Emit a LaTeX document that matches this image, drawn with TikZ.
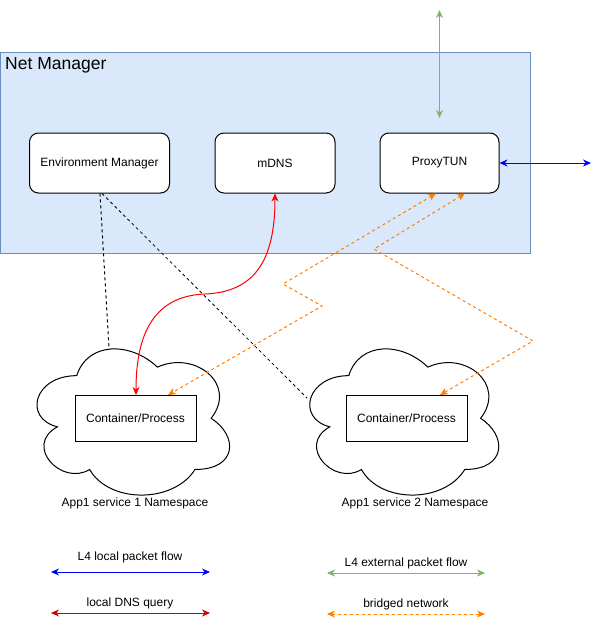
\documentclass[tikz,border=0pt]{standalone}
\usepackage{fontspec}
\setmainfont{Liberation Sans}
\usetikzlibrary{arrows.meta,calc}
\definecolor{nmfill}{HTML}{DAE8FC}
\definecolor{nmline}{HTML}{6C8EBF}
\definecolor{extgreen}{HTML}{82B366}
\definecolor{bridgeorange}{HTML}{FF8000}
\definecolor{dnsred}{HTML}{CC0000}
\newcommand\nscloud[3]{%
  \begin{scope}[shift={(#1,#2)},xscale=#3,yscale=170.6]
    \draw[cloudline] (0.25,0.25) .. controls (0.05,0.25) and (0,0.5) .. (0.16,0.55)
      .. controls (0,0.66) and (0.18,0.9) .. (0.31,0.8)
      .. controls (0.4,1) and (0.7,1) .. (0.8,0.8)
      .. controls (1,0.8) and (1,0.6) .. (0.875,0.5)
      .. controls (1,0.3) and (0.8,0.1) .. (0.625,0.2)
      .. controls (0.5,0.05) and (0.3,0.05) .. (0.25,0.25) -- cycle;
  \end{scope}}
\tikzset{
  x=1pt, y=-1pt,
  every node/.style={font=\fontsize{12}{14}\selectfont},
  rbox/.style={draw=black, fill=white, rounded corners=9pt, line width=1pt, minimum width=140pt, minimum height=60pt, inner sep=0pt},
  cbox/.style={draw=black, fill=white, line width=1pt, minimum width=121pt, minimum height=46pt, inner sep=0pt},
  cloudline/.style={draw=black, fill=white, line width=1pt},
  conn/.style={line width=1pt, {Stealth[length=8pt,width=7pt,inset=2.5pt]}-{Stealth[length=8pt,width=7pt,inset=2.5pt]}},
  dsh/.style={dash pattern=on 3pt off 3pt},
  lbl/.style={inner sep=0pt}
}
\begin{document}
\begin{tikzpicture}
\useasboundingbox (0,0) rectangle (600,623);
% Net Manager container
\draw[fill=nmfill, draw=nmline, line width=1pt] (0.5,53) rectangle (530.5,253);
\node[lbl, anchor=west, font=\fontsize{17.5}{20}\selectfont] (nmtitle) at (5,65) {Net Manager};
% boxes
\node[rbox] (env) at (99.5,163) {Environment Manager};
\node[rbox, minimum width=120pt] (mdns) at (275,163) {mDNS};
\node[rbox, minimum width=119pt] (proxy) at (439.5,163) {ProxyTUN};
% clouds
\nscloud{23}{333}{215}
\nscloud{296}{333}{211}
\node[cbox] (c1) at (135.5,418.5) {Container/Process};
\node[cbox] (c2) at (406.5,418.5) {Container/Process};
\node[lbl] (l1) at (135,503) {App1 service 1 Namespace};
\node[lbl] (l2) at (415,503) {App1 service 2 Namespace};
\coordinate (c1top) at (109,348);
\coordinate (c2left) at (307,398);
% black dashed
\draw[line width=1pt, dsh] ($(env.south)+(0.5,0)$) -- (c1top);
\draw[line width=0.8pt, dsh] ($(env.south)+(2.5,0)$) -- (c2left);
% red DNS curve
\draw[conn, red] (mdns.south) .. controls (275,260) and (255,292) .. (205,294)
   .. controls (150,296) and (136,340) .. ($(c1.north)+(0.5,0)$);
% orange bridged
\draw[conn, bridgeorange, dsh] ($(proxy.south)+(-3.5,0)$) -- (283,284) -- (322,306) -- ($(c1.north)+(32.5,0)$);
\draw[conn, bridgeorange, dsh] ($(proxy.south)+(25.5,0)$) -- (374,249) -- (533,341) -- ($(c2.north)+(33.5,0)$);
% external / local flows
\coordinate (gtop) at (439.5,10);
\coordinate (gbot) at (439.5,118);
\draw[conn, extgreen] (gtop) -- (gbot);
\coordinate (bend) at (591,163);
\draw[conn, blue] (proxy.east) -- (bend);
% legend
\coordinate (lb1) at (51,572); \coordinate (lb2) at (210,572);
\draw[conn, blue] (lb1) -- (lb2);
\node[lbl] (tb) at (130,557) {L4 local packet flow};
\coordinate (lr1) at (51,613); \coordinate (lr2) at (210,613);
\draw[conn, dnsred] (lr1) -- (lr2);
\node[lbl] (tr) at (130,603) {local DNS query};
\coordinate (lg1) at (327,573); \coordinate (lg2) at (485,573);
\draw[conn, extgreen] (lg1) -- (lg2);
\node[lbl] (tg) at (406,563) {L4 external packet flow};
\coordinate (lo1) at (327,614); \coordinate (lo2) at (485,614);
\draw[conn, bridgeorange, dsh] (lo1) -- (lo2);
\node[lbl] (to) at (406,604) {bridged network};
\end{tikzpicture}
\end{document}
